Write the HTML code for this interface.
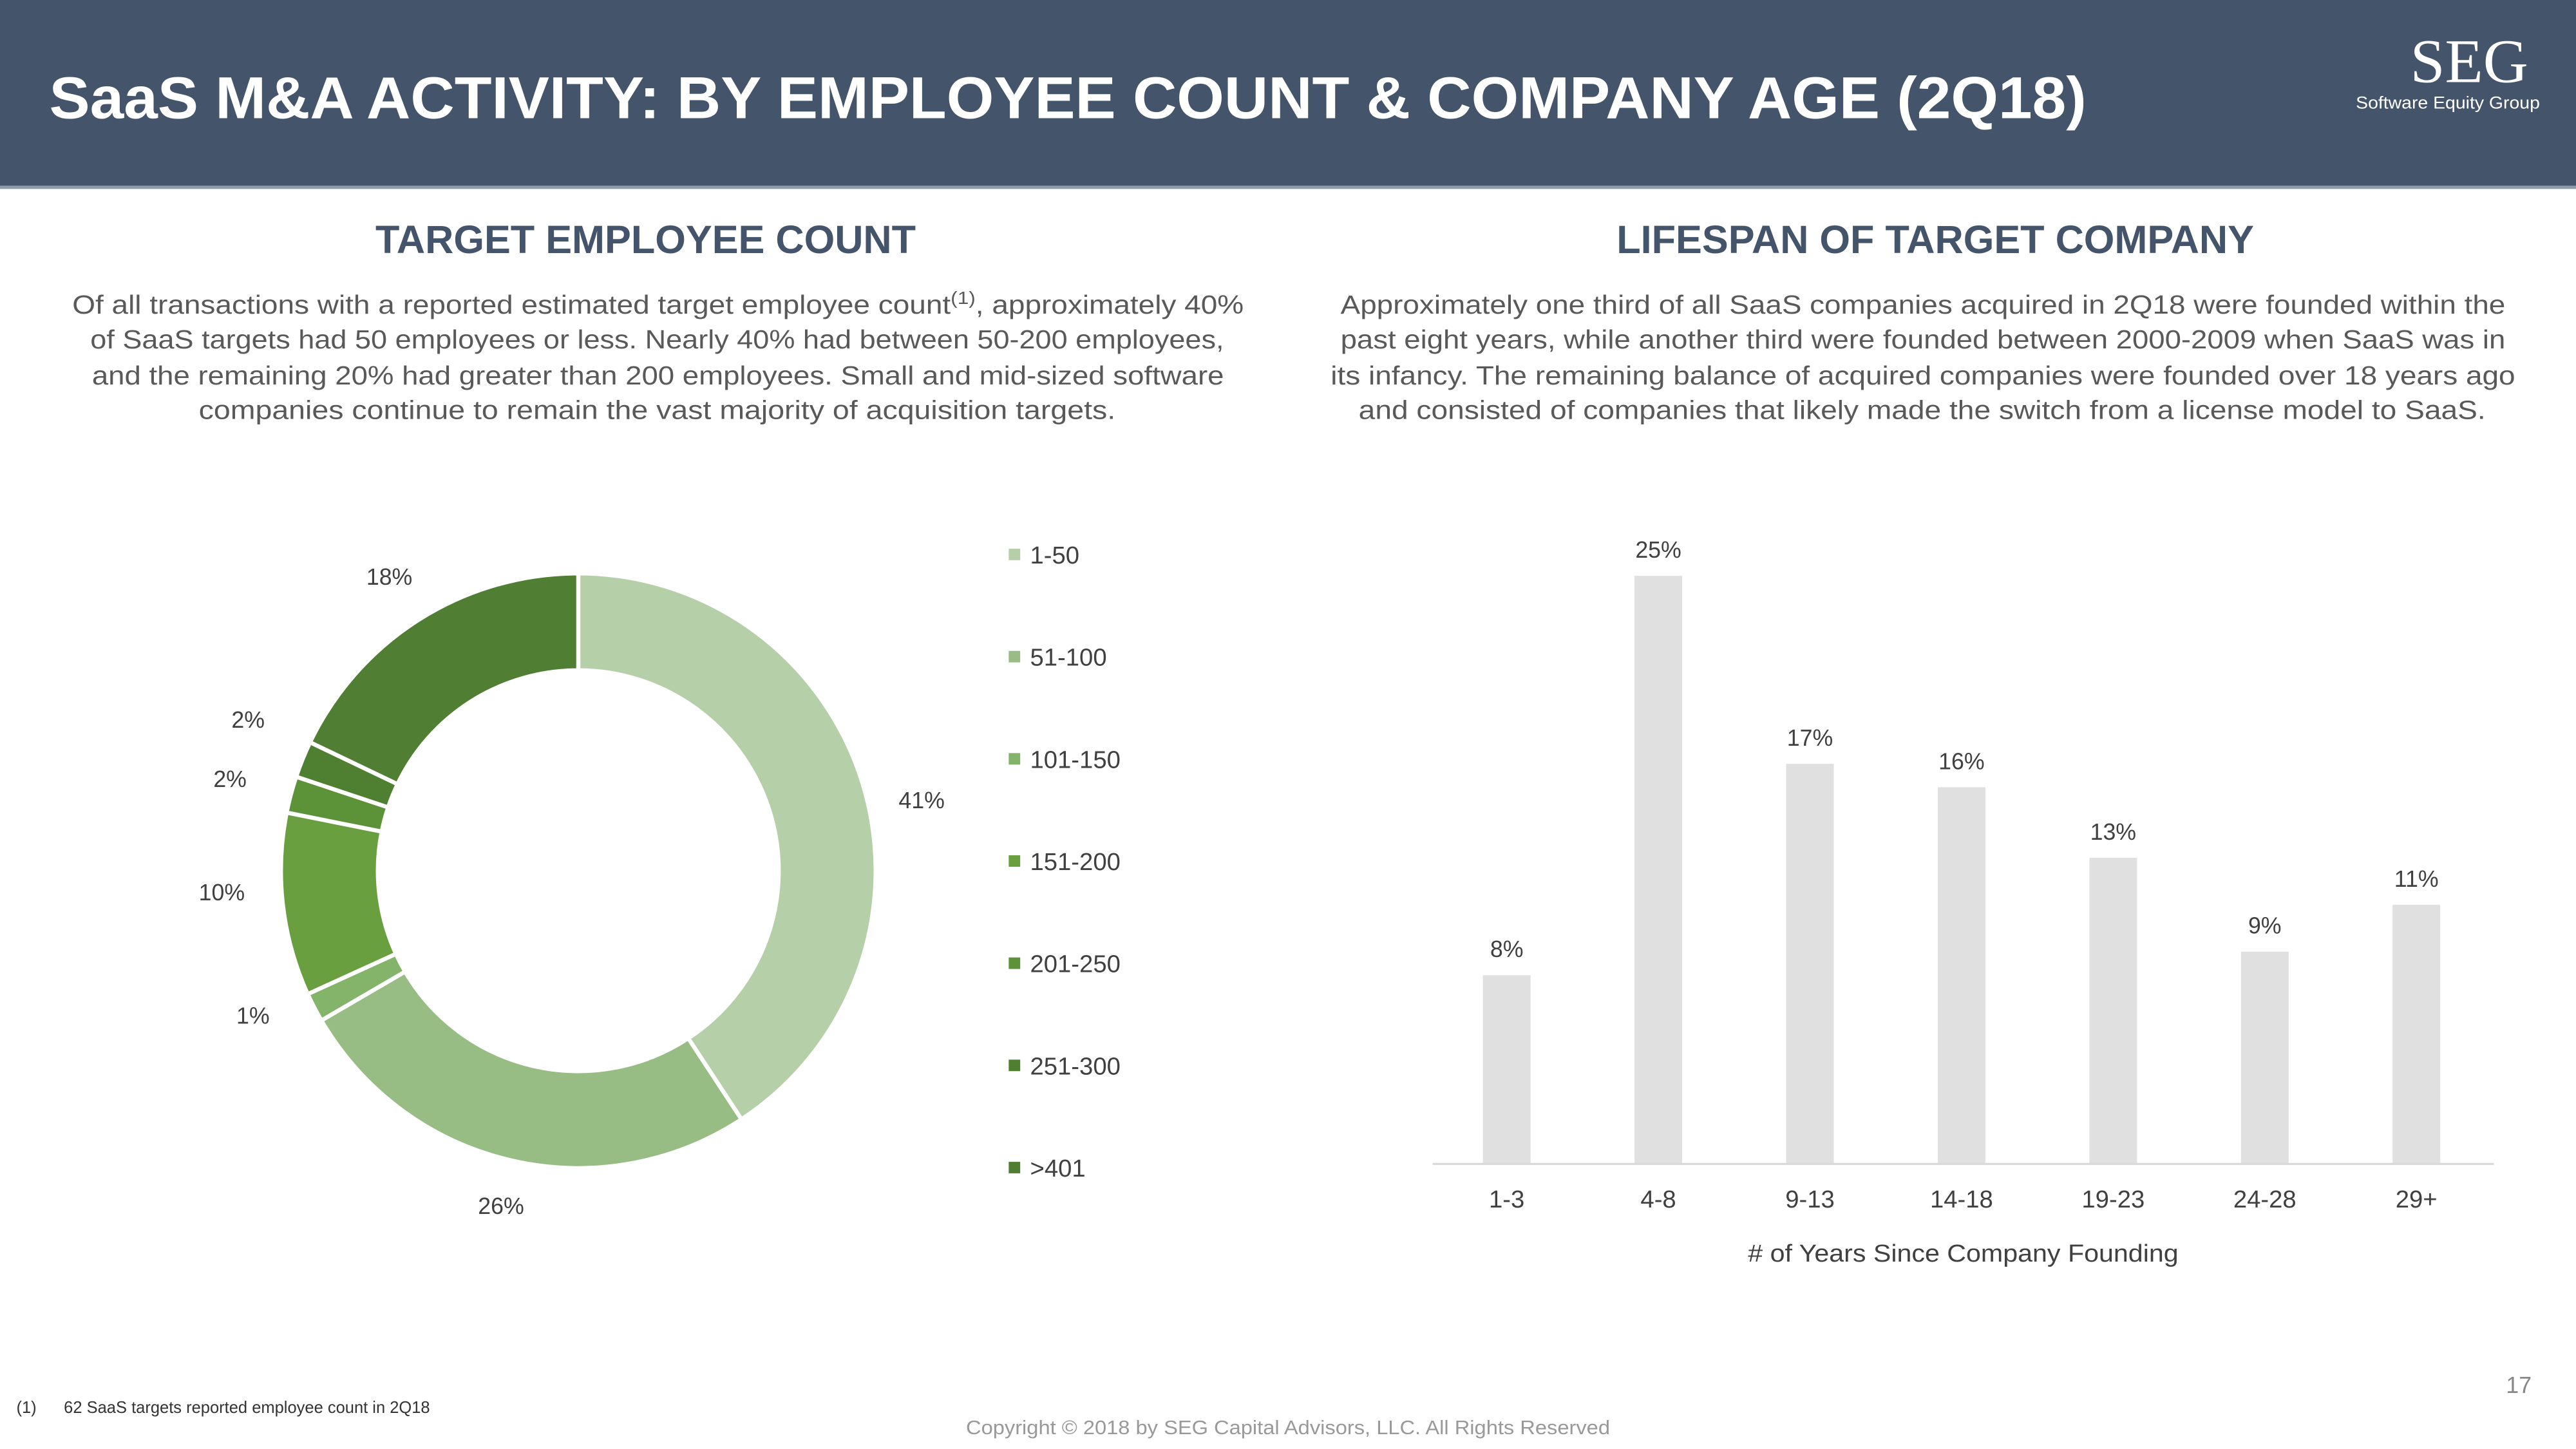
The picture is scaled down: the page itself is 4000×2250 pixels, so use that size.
<!DOCTYPE html>
<html><head><meta charset="utf-8">
<style>
html,body{margin:0;padding:0;background:#fff;}
svg{display:block;}
text{font-family:"Liberation Sans",sans-serif;}
</style></head>
<body>
<svg id="root" width="4000" height="2250" viewBox="0 0 1568 882" xmlns="http://www.w3.org/2000/svg">
<rect x="0" y="0" width="1568" height="114" fill="#44546a"/>
<rect x="0" y="113" width="1568" height="2" fill="#8e9aaa"/>
<text x="30" y="72" font-size="36" font-weight="bold" fill="#fff" textLength="1240" lengthAdjust="spacingAndGlyphs">SaaS M&amp;A ACTIVITY: BY EMPLOYEE COUNT &amp; COMPANY AGE (2Q18)</text>
<text x="1503" y="50" font-size="38" fill="#fff" text-anchor="middle" style="font-family:'Liberation Serif',serif">SEG</text>
<text x="1490" y="66" font-size="10.5" fill="#fff" text-anchor="middle" textLength="112" lengthAdjust="spacingAndGlyphs">Software Equity Group</text>

<text x="393" y="154" font-size="24" font-weight="bold" fill="#44546a" text-anchor="middle">TARGET EMPLOYEE COUNT</text>
<text x="1178" y="154" font-size="24" font-weight="bold" fill="#44546a" text-anchor="middle">LIFESPAN OF TARGET COMPANY</text>

<g font-size="16" fill="#595959">
<text x="44" y="191" textLength="713" lengthAdjust="spacingAndGlyphs">Of all transactions with a reported estimated target employee count<tspan font-size="11" dy="-6">(1)</tspan><tspan dy="6">, approximately 40%</tspan></text>
<text x="55" y="212" textLength="690" lengthAdjust="spacingAndGlyphs">of SaaS targets had 50 employees or less. Nearly 40% had between 50-200 employees,</text>
<text x="56" y="234" textLength="689" lengthAdjust="spacingAndGlyphs">and the remaining 20% had greater than 200 employees. Small and mid-sized software</text>
<text x="121" y="255" textLength="558" lengthAdjust="spacingAndGlyphs">companies continue to remain the vast majority of acquisition targets.</text>
</g>
<g font-size="16" fill="#595959">
<text x="816" y="191" textLength="709" lengthAdjust="spacingAndGlyphs">Approximately one third of all SaaS companies acquired in 2Q18 were founded within the</text>
<text x="816" y="212" textLength="709" lengthAdjust="spacingAndGlyphs">past eight years, while another third were founded between 2000-2009 when SaaS was in</text>
<text x="810" y="234" textLength="721" lengthAdjust="spacingAndGlyphs">its infancy. The remaining balance of acquired companies were founded over 18 years ago</text>
<text x="827" y="255" textLength="686" lengthAdjust="spacingAndGlyphs">and consisted of companies that likely made the switch from a license model to SaaS.</text>
</g>

<g id="donut"></g>
<g id="bars"></g>

<text x="10" y="860" font-size="10" fill="#333">(1)&#160;&#160;&#160;&#160;&#160;&#160;62 SaaS targets reported employee count in 2Q18</text>
<text x="784" y="873" font-size="12" fill="#999" text-anchor="middle" textLength="392" lengthAdjust="spacingAndGlyphs">Copyright © 2018 by SEG Capital Advisors, LLC. All Rights Reserved</text>
<text x="1541" y="848" font-size="14" fill="#888" text-anchor="end">17</text>
</svg>
<script>
const NS='http://www.w3.org/2000/svg';
// donut data
const donutCats=['1-50','51-100','101-150','151-200','201-250','251-300','>401'];
const donutVals=[41,26,1.6,10,2,2,18];
const donutLabels=['41%','26%','1%','10%','2%','2%','18%'];
const donutColors=['#b5cfa8','#98bd84','#84b36a','#6a9f40','#5c9238','#4f7f30','#507e33'];
// label placement (style, not data)
const donutLabelPos=[[561,492],[305,739],[154,623],[135,548],[140,479],[151,443],[237,356]];
// bar data
const barCats=['1-3','4-8','9-13','14-18','19-23','24-28','29+'];
const barVals=[8,25,17,16,13,9,11];
const barLabels=['8%','25%','17%','16%','13%','9%','11%'];

function mk(tag,attrs,parent){const e=document.createElementNS(NS,tag);for(const k in attrs)e.setAttribute(k,attrs[k]);parent.appendChild(e);return e;}

// Donut
(function(){
 const g=document.getElementById('donut');
 const cx=352,cy=530,R=181,r=122;
 const total=donutVals.reduce((a,b)=>a+b,0);
 let a0=0;
 donutVals.forEach((v,i)=>{
  const a1=a0+v/total*Math.PI*2;
  const p=(a,rad)=>[cx+rad*Math.sin(a),cy-rad*Math.cos(a)];
  const large=(a1-a0)>Math.PI?1:0;
  const [x0,y0]=p(a0,R),[x1,y1]=p(a1,R),[x2,y2]=p(a1,r),[x3,y3]=p(a0,r);
  const path=mk('path',{d:`M${x0},${y0}A${R},${R} 0 ${large} 1 ${x1},${y1}L${x2},${y2}A${r},${r} 0 ${large} 0 ${x3},${y3}Z`,fill:donutColors[i],stroke:'#fff','stroke-width':2.5},g);
  
  
  const t=mk('text',{x:donutLabelPos[i][0],y:donutLabelPos[i][1],'font-size':14,fill:'#404040','text-anchor':'middle'},g);
  t.textContent=donutLabels[i];
  
  
  a0=a1;
 });
 donutCats.forEach((c,i)=>{
  const y=338+i*62.2;
  const s=mk('rect',{x:614,y:y-4,width:7,height:7,fill:donutColors[i]},g);
  
  
  const t=mk('text',{x:627,y:y+5,'font-size':15,fill:'#404040'},g);
  t.textContent=c;
  
  
 });
})();

// Bars
(function(){
 const g=document.getElementById('bars');
 const x0=872,x1=1518,base=708,pxPer=14.3;
 const band=(x1-x0)/barCats.length;
 const xc=i=>x0+band*(i+0.5)-1;
 const y=v=>base-v*pxPer;
 barVals.forEach((v,i)=>{
  const b=mk('rect',{x:xc(i)-14.5,y:y(v),width:29,height:base-y(v),fill:'#e0e0e0'},g);
  
  
  const t=mk('text',{x:xc(i),y:y(v)-11,'font-size':14,fill:'#404040','text-anchor':'middle'},g);
  t.textContent=barLabels[i];
  
  
  const c=mk('text',{x:xc(i),y:735,'font-size':15,fill:'#404040','text-anchor':'middle'},g);
  c.textContent=barCats[i];
  
  
 });
 const ax=mk('line',{x1:x0,y1:base+0.5,x2:x1,y2:base+0.5,stroke:'#d9d9d9','stroke-width':1.3},g);
 
 
 const tt=mk('text',{x:1195,y:768,'font-size':15,fill:'#404040','text-anchor':'middle',textLength:262,lengthAdjust:'spacingAndGlyphs'},g);
 tt.textContent='# of Years Since Company Founding';
 
 
})();
</script>
</body></html>
